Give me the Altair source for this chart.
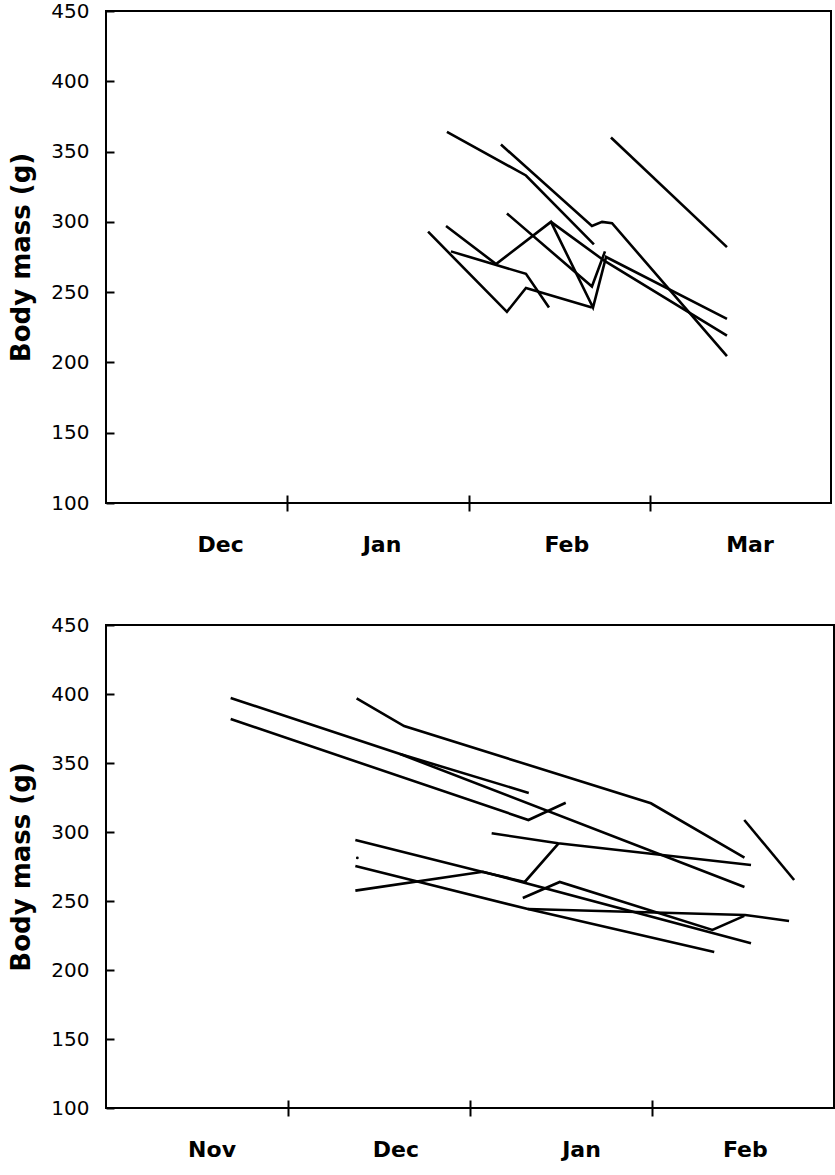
import altair as alt
import pandas as pd

# ---------------- data (time in months from start of first month shown) -------------
MONTHS_TOP = ["Dec", "Jan", "Feb", "Mar"]
MONTHS_BOTTOM = ["Nov", "Dec", "Jan", "Feb"]
TOP_LABEL_POS = [0.63, 1.52, 2.54, 3.55]
BOTTOM_LABEL_POS = [0.58, 1.59, 2.61, 3.51]
Y_TICKS = [100, 150, 200, 250, 300, 350, 400, 450]

top_bird = ["A", "A", "A",
            "B", "B", "B", "B", "B",
            "C", "C",
            "D", "D", "D", "D",
            "E", "E", "E", "E", "E", "E",
            "F", "F", "F",
            "G", "G", "G",
            "H", "H", "H"]
top_time = [1.881, 2.317, 2.692,
            2.179, 2.681, 2.737, 2.792, 3.426,
            2.786, 3.426,
            1.777, 2.212, 2.317, 2.681,
            1.876, 2.152, 2.455, 2.687, 2.759, 3.426,
            1.903, 2.317, 2.444,
            2.212, 2.681, 2.753,
            2.455, 2.753, 3.426]
top_mass = [364, 333, 284,
            355, 297, 300, 299, 204.5,
            360, 282,
            293, 236, 253, 239,
            297, 270, 300, 239, 275, 231,
            279, 263, 239,
            306, 254, 279,
            300, 272, 219]

bottom_bird = ["T", "T", "T", "T",
               "U1", "U1", "U1",
               "U2", "U2",
               "L", "L", "L",
               "P", "P", "P",
               "X", "X",
               "Q", "Q", "Q", "Q",
               "S", "S", "S",
               "V", "V", "V",
               "W", "W", "W",
               "R", "R", "R", "R"]
bottom_time = [1.377, 1.638, 2.994, 3.508,
               0.685, 1.616, 3.508,
               1.616, 2.323,
               0.685, 2.321, 2.526,
               2.119, 2.484, 3.544,
               3.507, 3.781,
               1.370, 2.071, 2.301, 2.488,
               1.370, 2.071, 3.544,
               1.370, 2.318, 3.342,
               2.318, 3.512, 3.753,
               2.290, 2.493, 3.332, 3.507]
bottom_mass = [396.9, 376.8, 320.8, 281.4,
               397.1, 356.5, 260.2,
               356.5, 328.3,
               381.9, 308.7, 321.2,
               299.1, 291.8, 276.1,
               308.7, 265.2,
               294.2, 271.0, 263.8, 292.0,
               257.5, 271.2, 219.4,
               275.4, 244.2, 213.1,
               244.2, 239.9, 235.5,
               252.2, 263.8, 229.0, 239.2]

dot_time = [1.381]
dot_mass = [281.2]

top_df = pd.DataFrame({"bird": top_bird, "time": top_time, "mass": top_mass})
bottom_df = pd.DataFrame({"bird": bottom_bird, "time": bottom_time, "mass": bottom_mass})
dot_df = pd.DataFrame({"time": dot_time, "mass": dot_mass})

FONT = "DejaVu Sans"


def x_enc(months, label_pos):
    label_expr = "datum.value % 1 == 0 ? '' : " + str(months) + "[floor(datum.value)]"
    return alt.X(
        "time:Q",
        scale=alt.Scale(domain=[0, 4], nice=False, zero=False),
        axis=alt.Axis(
            values=[1, 2, 3] + label_pos,
            labelExpr=label_expr,
            title=None,
            domain=False,
            grid=False,
            offset=-8,
            tickSize=16,
            tickWidth=2,
            tickColor="black",
            tickOpacity={"condition": {"test": "datum.value % 1 == 0", "value": 1}, "value": 0},
            labelFont=FONT,
            labelFontWeight="bold",
            labelFontSize=22,
            labelPadding=23,
            labelColor="black",
            labelFlush=False,
            labelOverlap=False,
        ),
    )


def y_enc():
    return alt.Y(
        "mass:Q",
        scale=alt.Scale(domain=[100, 450], nice=False, zero=False),
        axis=alt.Axis(
            values=Y_TICKS,
            title="Body mass (g)",
            titleFont=FONT,
            titleFontWeight="bold",
            titleFontSize=26,
            titleColor="black",
            titlePadding=16,
            domain=False,
            grid=False,
            offset=-8,
            tickSize=8,
            tickWidth=2,
            tickColor="black",
            labelFont=FONT,
            labelFontSize=20,
            labelPadding=17,
            labelColor="black",
            labelFlush=False,
        ),
    )


top_lines = alt.Chart(top_df).mark_line(color="black", strokeWidth=2.6).encode(
    x=x_enc(MONTHS_TOP, TOP_LABEL_POS),
    y=y_enc(),
    detail="bird:N",
)
top = top_lines.properties(width=725, height=492)

bottom_lines = alt.Chart(bottom_df).mark_line(color="black", strokeWidth=2.6).encode(
    x=x_enc(MONTHS_BOTTOM, BOTTOM_LABEL_POS),
    y=y_enc(),
    detail="bird:N",
)
bottom_dot = alt.Chart(dot_df).mark_point(filled=True, size=8, color="black", opacity=1).encode(
    x="time:Q", y="mass:Q"
)
bottom = alt.layer(bottom_lines, bottom_dot).properties(width=728, height=483)

chart = (
    alt.vconcat(top, bottom, spacing=58)
    .properties(padding={"left": 7, "top": 0, "right": 0, "bottom": 0}, background="white")
    .configure_view(stroke="black", strokeWidth=2)
)

chart.save("out.html", embed_options={"renderer": "svg", "actions": False})
